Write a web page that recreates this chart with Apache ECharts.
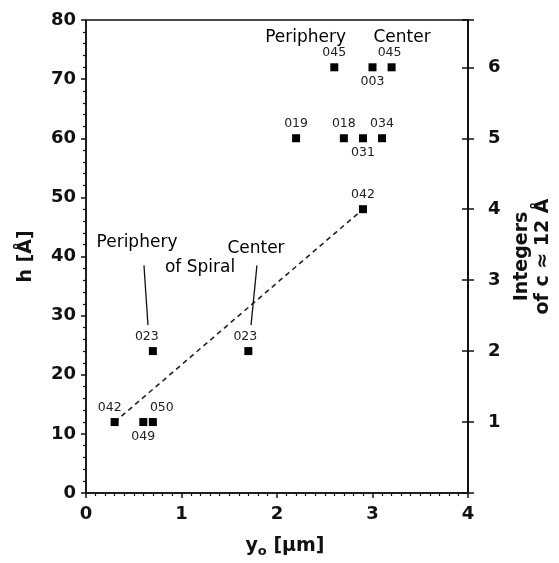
<!DOCTYPE html>
<html>
<head>
<meta charset="utf-8">
<script src="https://cdn.jsdelivr.net/npm/echarts@6/dist/echarts.min.js"></script>
<style>html,body{margin:0;padding:0;background:#fff}#c{width:559px;height:563px}</style>
</head>
<body>
<div id="c"></div>
<script>
// ---- data ----
const sampleNames = ['042','049','050','023','023','042','019','018','031','034','045','003','045'];
const yoValues    = [0.3, 0.6, 0.7, 0.7, 1.7, 2.9, 2.2, 2.7, 2.9, 3.1, 2.6, 3.0, 3.2];
const hValues     = [12, 12, 12, 24, 24, 48, 60, 60, 60, 60, 72, 72, 72];
const labelSide   = ['top','bottom','top','top','top','top','top','top','bottom','top','top','bottom','top'];
const labelShift  = [-5, 0, 9, -6, -3, 0, 0, 0, 0, 0, 0, 0, -2];
const trendYo = [0.3, 2.9];
const trendH  = [12, 48];
const xTicks = [0, 1, 2, 3, 4];
const hTicks = [0, 10, 20, 30, 40, 50, 60, 70, 80];
const cTicks = [1, 2, 3, 4, 5, 6];
const cUnit = 12; // Å
const annotTexts = ['Periphery', 'of Spiral', 'Center', 'Periphery', 'Center'];
const annotYo    = [0.534, 1.194, 1.78, 2.30, 3.31];
const annotH     = [42.3, 38.2, 41.3, 77.0, 77.0];
const leaderPeriphery = [[0.607, 38.5], [0.649, 28.4]];
const leaderCenter    = [[1.79, 38.5], [1.728, 28.4]];

const FONT = 'DejaVu Sans';
const chart = echarts.init(document.getElementById('c'), null, {renderer: 'canvas'});
const hMax = hTicks[hTicks.length - 1];
const rightAxisBase = {
  type: 'value', position: 'right', min: 0, max: hMax / cUnit, interval: 1,
  axisLine: {show: true, lineStyle: {color: '#111', width: 1.5}},
  splitLine: {show: false}
};
const option = {
  animation: false,
  backgroundColor: '#fff',
  grid: {left: 86, right: 91, top: 20, bottom: 70, show: true, borderColor: '#111', borderWidth: 1.5,
    containLabel: false, outerBoundsMode: 'none'},
  xAxis: {
    type: 'value', min: xTicks[0], max: xTicks[xTicks.length - 1], interval: 1,
    axisLine: {lineStyle: {color: '#111', width: 1.5}},
    axisTick: {show: true, length: 5, lineStyle: {color: '#111', width: 1.5}},
    minorTick: {show: true, splitNumber: 10, length: 3, lineStyle: {color: '#111', width: 1.2}},
    splitLine: {show: false},
    axisLabel: {color: '#111', fontFamily: FONT, fontWeight: 'bold', fontSize: 18, margin: 12},
    name: '{a|y}{s|o}{a| [μm]}', nameLocation: 'middle', nameGap: 42,
    nameTextStyle: {padding: [0, 0, 0, 16], rich: {
      a: {fontFamily: FONT, fontWeight: 'bold', fontSize: 19, color: '#111'},
      s: {fontFamily: FONT, fontWeight: 'bold', fontSize: 13, color: '#111', padding: [10, 0, 0, 0]}
    }}
  },
  yAxis: [
    {
      type: 'value', min: hTicks[0], max: hMax, interval: 10,
      axisLine: {lineStyle: {color: '#111', width: 1.5}},
      axisTick: {show: true, length: 5, lineStyle: {color: '#111', width: 1.5}},
      minorTick: {show: true, splitNumber: 5, length: 3, lineStyle: {color: '#111', width: 1.2}},
      splitLine: {show: false},
      axisLabel: {color: '#111', fontFamily: FONT, fontWeight: 'bold', fontSize: 18, margin: 10},
      name: 'h [Å]', nameLocation: 'middle', nameGap: 50, nameRotate: 90,
      nameTextStyle: {fontFamily: FONT, fontWeight: 'bold', fontSize: 19, color: '#111'}
    },
    Object.assign({}, rightAxisBase, {
      axisTick: {show: true, inside: false, length: 6, lineStyle: {color: '#111', width: 1.5}},
      axisLabel: {color: '#111', fontFamily: FONT, fontWeight: 'bold', fontSize: 18, margin: 20,
        formatter: v => (cTicks.indexOf(v) >= 0 ? String(v) : '')},
      name: 'Integers\nof c ≈ 12 Å', nameLocation: 'middle', nameGap: 44, nameRotate: 90,
      nameTextStyle: {fontFamily: FONT, fontWeight: 'bold', fontSize: 19, color: '#111', lineHeight: 21}
    }),
    Object.assign({}, rightAxisBase, {
      axisTick: {show: true, inside: true, length: 6, lineStyle: {color: '#111', width: 1.5}},
      axisLabel: {show: false}
    })
  ],
  series: [
    {
      type: 'line', data: trendYo.map((x, i) => [x, trendH[i]]), symbol: 'none', silent: true,
      lineStyle: {color: '#222', width: 1.6, type: [5, 4]}, z: 1
    },
    {
      type: 'line', data: leaderPeriphery, symbol: 'none', silent: true,
      lineStyle: {color: '#111', width: 1.3}, z: 1
    },
    {
      type: 'line', data: leaderCenter, symbol: 'none', silent: true,
      lineStyle: {color: '#111', width: 1.3}, z: 1
    },
    {
      type: 'scatter', symbol: 'rect', symbolSize: 8, z: 3,
      itemStyle: {color: '#000', opacity: 1},
      data: yoValues.map((x, i) => ({
        value: [x, hValues[i]],
        label: {show: true, formatter: sampleNames[i], position: labelSide[i], offset: [labelShift[i], 0],
          distance: 4, fontFamily: FONT, fontSize: 12.5, color: '#222', opacity: 1}
      }))
    },
    {
      type: 'scatter', symbolSize: 0, silent: true, z: 2,
      itemStyle: {opacity: 1},
      data: annotTexts.map((t, i) => ({
        value: [annotYo[i], annotH[i]],
        label: {show: true, formatter: t, position: 'inside', fontFamily: FONT, fontSize: 17,
          fontWeight: 500, color: '#000', opacity: 1}
      }))
    }
  ]
};
chart.setOption(option);
</script>
</body>
</html>
